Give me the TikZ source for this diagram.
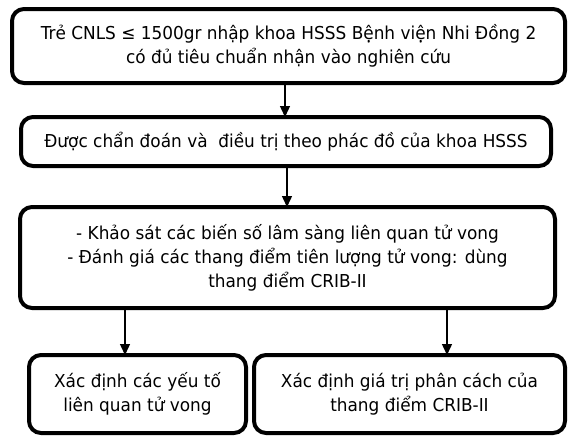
\documentclass[tikz,border=0pt]{standalone}
\usepackage{fontspec}
\setmainfont[FakeStretch=0.95]{DejaVu Sans}
\usetikzlibrary{arrows.meta}
\begin{document}
\begin{tikzpicture}[x=1pt,y=-1pt,
  flowbox/.style={draw=black, line width=4pt, rounded corners=12pt, fill=white,
    rectangle, inner sep=0pt, outer sep=0pt, align=center,
    font=\fontsize{17.8}{24}\selectfont},
  flowarrow/.style={draw=black, line width=1.4pt, -{Triangle[length=11pt,width=10pt]}}]
\useasboundingbox (0,0) rectangle (570,437);
\fill[white] (0,0) rectangle (570,437);

\node[flowbox, minimum width=553, minimum height=74] (b1) at (288.5,46)
  {Trẻ CNLS ≤ 1500gr nhập khoa HSSS Bệnh viện Nhi Đồng 2\\có đủ tiêu chuẩn nhận vào nghiên cứu};
\node[flowbox, minimum width=530, minimum height=49] (b2) at (286,141.5)
  {Được chẩn đoán và \ điều trị theo phác đồ của khoa HSSS};
\node[flowbox, minimum width=535, minimum height=101] (b3) at (287.5,257.5)
  {- Khảo sát các biến số lâm sàng liên quan tử vong\\- Đánh giá các thang điểm tiên lượng tử vong: dùng\\thang điểm CRIB-II};
\node[flowbox, minimum width=217, minimum height=78] (b4) at (137.5,394)
  {Xác định các yếu tố\\liên quan tử vong};
\node[flowbox, minimum width=311, minimum height=78] (b5) at (409.5,394)
  {Xác định giá trị phân cách của\\thang điểm CRIB-II};

\coordinate (xa) at (285,0);
\coordinate (xb) at (287,0);
\coordinate (xc) at (125,0);
\coordinate (xd) at (447,0);
\draw[flowarrow] (b1.south -| xa) -- (b2.north -| xa);
\draw[flowarrow] (b2.south -| xb) -- (b3.north -| xb);
\draw[flowarrow] (b3.south -| xc) -- (b4.north -| xc);
\draw[flowarrow] (b3.south -| xd) -- (b5.north -| xd);
\end{tikzpicture}
\end{document}
